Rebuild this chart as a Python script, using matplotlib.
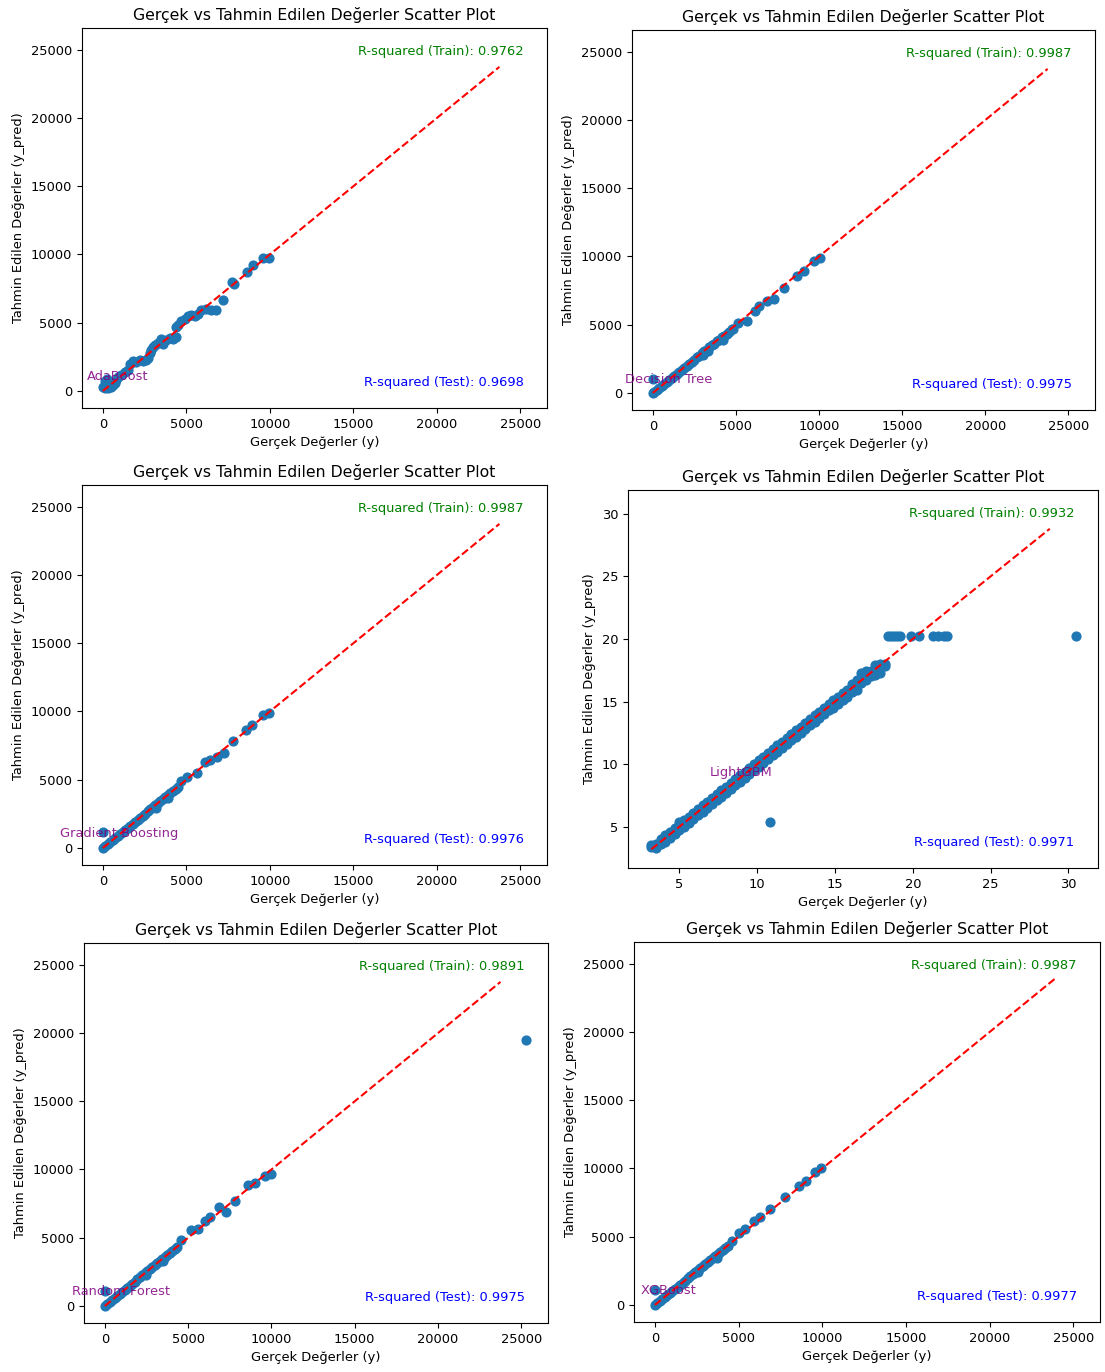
import matplotlib
matplotlib.use("Agg")
import matplotlib.pyplot as plt

# ---------------------------------------------------------------------------
# Values read off the reference (actual vs predicted), one block per model
# ---------------------------------------------------------------------------
model_names = ["AdaBoost", "Decision Tree", "Gradient Boosting", "LightGBM",
               "Random Forest", "XGBoost"]
r2_train = [0.9762, 0.9987, 0.9987, 0.9932, 0.9891, 0.9987]
r2_test = [0.9698, 0.9975, 0.9976, 0.9971, 0.9975, 0.9977]

ada_true = [0, 100, 200, 300, 400, 500, 600, 150, 350, 700, 250, 800, 900,
            1100, 1300, 1500, 1600, 1800, 2000, 2200, 2400, 2600, 2700, 2800,
            2900, 3000, 3100, 3300, 3500, 3600, 3800, 4000, 4200, 4400, 4350,
            4500, 4700, 4900, 5100, 5300, 5500, 5700, 5900, 6200, 6500, 6800,
            7200, 7750, 7850, 8650, 9000, 9600, 9950]
ada_pred = [300, 250, 400, 200, 350, 300, 450, 700, 650, 600, 900, 800, 1000,
            1200, 1400, 1500, 2000, 2200, 2100, 2250, 2200, 2300, 2400, 2800,
            3000, 3200, 3400, 3500, 3800, 3450, 3700, 3900, 3800, 3950, 4700,
            4800, 5100, 5300, 5500, 5600, 5500, 5650, 5900, 6000, 5950, 5950,
            6700, 7950, 7850, 8750, 9250, 9750, 9750]

dt_true = [0, 0, 100, 250, 400, 550, 700, 850, 1000, 1150, 1300, 1450, 1600,
           1750, 1900, 2050, 2200, 2350, 2500, 2650, 2800, 2950, 3100, 3250,
           3400, 3550, 3700, 3850, 4000, 4150, 4300, 4450, 4600, 4750, 3000,
           3300, 4200, 4800, 5150, 5650, 6150, 6370, 6870, 7270, 7870, 8670,
           9120, 9720, 10060]
dt_pred = [0, 1000, 80, 200, 380, 500, 680, 800, 950, 1100, 1250, 1400, 1550,
           1700, 1850, 2000, 2150, 2300, 2400, 2600, 2700, 2900, 3050, 3150,
           3350, 3500, 3600, 3800, 3900, 4100, 4200, 4350, 4500, 4650, 2750,
           3050, 3900, 4700, 5130, 5250, 6000, 6370, 6730, 6880, 7700, 8560,
           8970, 9700, 9890]

gb_true = [0, 0, 150, 300, 450, 600, 750, 900, 1050, 1200, 1350, 1500, 1650,
           1800, 1950, 2100, 2250, 2400, 2550, 2700, 2850, 3000, 3150, 3300,
           3450, 3600, 3750, 3900, 4050, 4200, 4350, 4500, 4650, 3200, 3900,
           5040, 5640, 6140, 6440, 6840, 7240, 7800, 8600, 8960, 9600, 9940]
gb_pred = [0, 1200, 120, 280, 430, 580, 720, 880, 1030, 1180, 1330, 1480, 1630,
           1770, 1930, 2080, 2230, 2370, 2520, 2680, 2830, 2980, 3120, 3280,
           3430, 3580, 3720, 3880, 4030, 4180, 4330, 4480, 4870, 2950, 3650,
           5230, 5470, 6330, 6450, 6700, 6940, 7820, 8680, 9040, 9730, 9900]

lgb_true = [3.2, 3.5, 3.8, 4.1, 4.4, 4.7, 5.0, 5.3, 5.6, 5.9, 6.2, 6.5, 6.8,
            7.1, 7.4, 7.7, 8.0, 8.3, 8.6, 8.9, 9.2, 9.5, 9.8, 10.1, 10.4, 10.7,
            11.0, 11.3, 11.6, 11.9, 12.2, 12.5, 12.8, 13.1, 13.4, 13.7, 14.0,
            14.3, 14.6, 14.9, 15.2, 15.5, 15.8, 16.1, 16.4, 16.7, 17.0, 17.3,
            17.6, 17.9, 18.2,
            3.2, 3.5, 3.8, 4.1, 4.4, 4.7, 5.0, 5.3, 5.6, 5.9, 6.2, 6.5, 6.8,
            7.1, 7.4, 7.7, 8.0, 8.3, 8.6, 8.9, 9.2, 9.5, 9.8, 10.1, 10.4, 10.7,
            11.0, 11.3, 11.6, 11.9, 12.2, 12.5, 12.8, 13.1, 13.4, 13.7, 14.0,
            14.3, 14.6, 14.9, 15.2, 15.5, 15.8, 16.1, 16.4, 16.7, 17.0, 17.3,
            17.6, 17.9, 18.2,
            10.85, 18.4, 18.6, 18.8, 19.0, 19.2, 19.9, 20.4, 21.3, 21.6, 22.0,
            22.2, 30.5]
lgb_pred = [3.5, 3.6, 4.0, 4.3, 4.6, 4.9, 5.4, 5.5, 5.8, 6.1, 6.4, 6.7, 7.0,
            7.3, 7.6, 7.9, 8.2, 8.5, 8.8, 9.1, 9.4, 9.7, 10.0, 10.3, 10.6, 10.9,
            11.2, 11.5, 11.8, 12.1, 12.4, 12.7, 13.0, 13.3, 13.6, 13.9, 14.2,
            14.5, 14.8, 15.1, 15.4, 15.7, 15.9, 16.4, 16.7, 17.3, 17.4, 17.4,
            17.9, 18.0, 18.0,
            3.4, 3.3, 3.6, 3.8, 4.1, 4.4, 4.7, 5.0, 5.3, 5.6, 5.9, 6.2, 6.5,
            6.8, 7.1, 7.4, 7.7, 8.0, 8.3, 8.6, 8.9, 9.2, 9.5, 9.8, 10.1, 10.4,
            10.7, 11.0, 11.3, 11.6, 11.9, 12.2, 12.5, 12.8, 13.1, 13.4, 13.7,
            14.0, 14.3, 14.5, 14.8, 15.1, 15.4, 15.8, 15.9, 16.5, 16.7, 17.0,
            17.1, 17.3, 17.8,
            5.4, 20.25, 20.25, 20.25, 20.25, 20.25, 20.25, 20.25, 20.25, 20.25,
            20.25, 20.25, 20.25]

rf_true = [0, 0, 150, 300, 450, 600, 750, 900, 1050, 1200, 1350, 1500, 1650,
           1800, 1950, 2100, 2250, 2400, 2550, 2700, 2850, 3000, 3150, 3300,
           3450, 3600, 3750, 3900, 4050, 4200, 4350, 4600, 2500, 3500, 5200,
           5600, 6000, 6300, 6850, 7270, 7800, 8600, 9040, 9640, 9960, 25300]
rf_pred = [0, 1120, 130, 290, 440, 590, 740, 890, 1040, 1190, 1340, 1480, 1640,
           1790, 1940, 2090, 2240, 2390, 2530, 2690, 2840, 2990, 3140, 3290,
           3440, 3590, 3740, 3890, 4040, 4190, 4340, 4800, 2300, 3300, 5570,
           5650, 6250, 6500, 7230, 6870, 7720, 8870, 9020, 9550, 9680, 19500]

xgb_true = [0, 0, 150, 300, 450, 600, 750, 900, 1050, 1200, 1350, 1500, 1650,
            1800, 1950, 2100, 2250, 2400, 2550, 2700, 2850, 3000, 3150, 3300,
            3450, 3600, 3750, 3900, 4050, 4200, 4350, 4600, 2600, 3700, 5000,
            5400, 5900, 6300, 6860, 7780, 8620, 9020, 9580, 9940]
xgb_pred = [0, 1100, 130, 290, 440, 590, 740, 890, 1040, 1190, 1340, 1490, 1640,
            1790, 1940, 2090, 2240, 2390, 2540, 2690, 2840, 2990, 3140, 3290,
            3440, 3590, 3740, 3890, 4040, 4190, 4340, 4650, 2400, 3450, 5300,
            5550, 6180, 6430, 7060, 7940, 8740, 9100, 9730, 10020]

true_values = [ada_true, dt_true, gb_true, lgb_true, rf_true, xgb_true]
pred_values = [ada_pred, dt_pred, gb_pred, lgb_pred, rf_pred, xgb_pred]

# diagonal reference line end points and where the model name sits
line_start = [0, 0, 0, 3.2, 0, 0]
line_end = [23750, 23750, 23750, 28.8, 23750, 23900]
name_x = [860, 960, 960, 9.0, 960, 840]
name_y = [1050, 950, 1030, 9.3, 1030, 1030]

big_lim = (-1250, 26600)
lgb_lim = (1.7, 31.9)
axis_limits = [big_lim, big_lim, big_lim, lgb_lim, big_lim, big_lim]

# the source screenshots were shrunk a little, so text is slightly smaller
plt.rcParams['font.size'] = 9.4
plt.rcParams['xtick.labelsize'] = 9.4
plt.rcParams['ytick.labelsize'] = 9.4

# axes boxes in pixels (left, top, right, bottom) -- panels are slightly offset
W, H = 1105, 1372
boxes = [(82, 28, 547, 408), (632, 30, 1095, 410),
         (82, 485, 547, 865), (628, 490, 1098, 868),
         (84, 943, 548, 1323), (634, 942, 1100, 1322)]

fig = plt.figure(figsize=(W / 100, H / 100), dpi=100)

for i, name in enumerate(model_names):
    l, t, r, b = boxes[i]
    ax = fig.add_axes([l / W, 1 - b / H, (r - l) / W, (b - t) / H])
    ax.scatter(true_values[i], pred_values[i], s=40)
    ax.plot([line_start[i], line_end[i]], [line_start[i], line_end[i]],
            'r--', linewidth=1.5)
    ax.set_xlim(axis_limits[i])
    ax.set_ylim(axis_limits[i])
    if i == 3:
        ax.set_xticks([5, 10, 15, 20, 25, 30])
        ax.set_yticks([5, 10, 15, 20, 25, 30])
    else:
        ax.set_xticks([0, 5000, 10000, 15000, 20000, 25000])
        ax.set_yticks([0, 5000, 10000, 15000, 20000, 25000])
    ax.set_title('Gerçek vs Tahmin Edilen Değerler Scatter Plot', fontsize=11.3)
    ax.set_xlabel('Gerçek Değerler (y)')
    ax.set_ylabel('Tahmin Edilen Değerler (y_pred)')
    ax.text(0.95, 0.955, 'R-squared (Train): {:.4f}'.format(r2_train[i]),
            color='green', ha='right', va='top', transform=ax.transAxes)
    ax.text(0.95, 0.05, 'R-squared (Test): {:.4f}'.format(r2_test[i]),
            color='blue', ha='right', va='bottom', transform=ax.transAxes)
    ax.text(name_x[i], name_y[i], name, color='purple', alpha=0.85,
            ha='center', va='center')

fig.savefig('out.png', dpi=100)
